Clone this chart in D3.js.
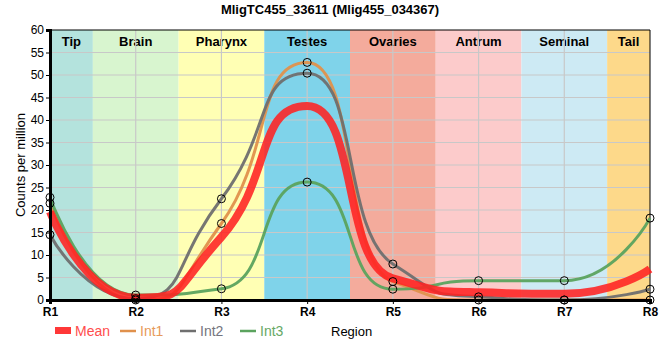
<!DOCTYPE html>
<html><head><meta charset="utf-8">
<script src="https://cdn.jsdelivr.net/npm/d3@7"></script>
<style>body{margin:0;background:#fff;font-family:"Liberation Sans",Arial,sans-serif;}</style>
</head><body><svg id="c" width="660" height="360"></svg>
<script>
const regions = ["R1","R2","R3","R4","R5","R6","R7","R8"];
const bandNames = ["Tip","Brain","Pharynx","Testes","Ovaries","Antrum","Seminal","Tail"];
const bandStart = [0,0.5,1.5,2.5,3.5,4.5,5.5,6.5];
const bandEnd   = [0.5,1.5,2.5,3.5,4.5,5.5,6.5,7];
const bandColors = ["#b4e3dd","#d8f5cf","#ffffb4","#7fd3ea","#f4ab9c","#fccbcb","#cdeaf4","#fdd98a"];
const int1 = [21.5, 0, 17, 52.8, 4.1, 0, 0, 0];
const int2 = [14.5, 0.3, 22.5, 50.4, 8.0, 0.7, 0, 2.4];
const int3 = [22.8, 1.1, 2.5, 26.2, 2.4, 4.3, 4.3, 18.2];
const mean = [19.6, 0.5, 14.0, 43.1, 4.8, 1.7, 1.4, 6.9];
const yTicks = [0,5,10,15,20,25,30,35,40,45,50,55,60];
const seriesNames = ["Mean","Int1","Int2","Int3"];
const seriesColors = ["#ff2222","#e0914c","#6f6f6f","#5ba35e"];
const legendText = ["#ff4d4d","#e79a5a","#74747e","#66a866"];

const svg = d3.select("#c");
const L=50,R=650,T=30,B=300;
const x = d3.scaleLinear().domain([0,7]).range([L,R]);
const y = d3.scaleLinear().domain([0,60]).range([B,T]);

// spline path (control points clamped to avoid false extremes)
function splinePath(vals){
  const pts = vals.map((v,i)=>[x(i), y(v)]);
  const s = 2/3, den = s+1;
  const lc = [], rc = [];
  for(let i=0;i<pts.length;i++){
    const [px,py] = pts[i];
    if(i===0 || i===pts.length-1){ lc[i]=[px,py]; rc[i]=[px,py]; continue; }
    const [lx,ly] = pts[i-1], [nx,ny] = pts[i+1];
    let lcx=(s*px+lx)/den, lcy=(s*py+ly)/den, rcx=(s*px+nx)/den, rcy=(s*py+ny)/den;
    let corr=0;
    if(rcx!==lcx) corr=((rcy-lcy)*(rcx-px))/(rcx-lcx)+py-rcy;
    lcy+=corr; rcy+=corr;
    if(lcy>ly && lcy>py){ lcy=Math.max(ly,py); rcy=2*py-lcy; }
    else if(lcy<ly && lcy<py){ lcy=Math.min(ly,py); rcy=2*py-lcy; }
    if(rcy>ny && rcy>py){ rcy=Math.max(ny,py); lcy=2*py-rcy; }
    else if(rcy<ny && rcy<py){ rcy=Math.min(ny,py); lcy=2*py-rcy; }
    lc[i]=[lcx,lcy]; rc[i]=[rcx,rcy];
  }
  const p = d3.path();
  p.moveTo(pts[0][0],pts[0][1]);
  for(let i=1;i<pts.length;i++){
    p.bezierCurveTo(rc[i-1][0],rc[i-1][1],lc[i][0],lc[i][1],pts[i][0],pts[i][1]);
  }
  return p.toString();
}

svg.append("text").attr("x",330).attr("y",14).attr("text-anchor","middle")
  .attr("font-size",13).attr("font-weight","bold").text("MligTC455_33611 (Mlig455_034367)");

// bands
bandNames.forEach((n,i)=>{
  svg.append("rect").attr("x",x(bandStart[i])).attr("y",T).attr("width",x(bandEnd[i])-x(bandStart[i])).attr("height",B-T).attr("fill",bandColors[i]);
  svg.append("text").attr("x",(x(bandStart[i])+x(bandEnd[i]))/2).attr("y",T+16).attr("text-anchor","middle")
    .attr("font-size",13).attr("font-weight","bold").text(n);
});
// grid
svg.append("g").selectAll("line").data(yTicks.slice(1,-1)).join("line")
  .attr("x1",L).attr("x2",R).attr("y1",d=>y(d)).attr("y2",d=>y(d)).attr("stroke","#c8c8c8").attr("stroke-width",1.2);
svg.append("g").selectAll("line").data(d3.range(1,7)).join("line")
  .attr("y1",T).attr("y2",B).attr("x1",d=>x(d)).attr("x2",d=>x(d)).attr("stroke","#c8c8c8").attr("stroke-width",1.2);
// frame
svg.append("line").attr("x1",L).attr("x2",R).attr("y1",T).attr("y2",T).attr("stroke","#000");
svg.append("line").attr("x1",R).attr("x2",R).attr("y1",T).attr("y2",B).attr("stroke","#000");

const data = [mean,int1,int2,int3];
[1,2,3].forEach(k=>{
  svg.append("path").attr("d",splinePath(data[k])).attr("fill","none").attr("stroke",seriesColors[k]).attr("stroke-width",3).attr("stroke-opacity",0.95);
});
svg.append("path").attr("d",splinePath(mean)).attr("fill","none").attr("stroke",seriesColors[0]).attr("stroke-width",8).attr("stroke-opacity",0.88);
// points
[1,2,3].forEach(k=>{
  svg.append("g").selectAll("circle").data(data[k]).join("circle")
    .attr("cx",(d,i)=>x(i)).attr("cy",d=>y(d)).attr("r",4).attr("fill","none").attr("stroke","#000").attr("stroke-width",1);
});

// axes
const yAxis = svg.append("g").attr("transform",`translate(${L},0)`)
  .call(d3.axisLeft(y).tickValues(yTicks).tickSize(4).tickPadding(2));
yAxis.select(".domain").attr("stroke-width",3);
yAxis.selectAll("text").attr("font-size",12).attr("font-family","Liberation Sans, Arial").attr("fill","#000");
const xAxis = svg.append("g").attr("transform",`translate(0,${B})`)
  .call(d3.axisBottom(x).tickValues(d3.range(8)).tickFormat(i=>regions[i]).tickSize(4).tickPadding(3));
xAxis.select(".domain").attr("stroke-width",3);
xAxis.selectAll("text").attr("font-size",12).attr("font-weight","bold").attr("font-family","Liberation Sans, Arial").attr("fill","#000");

svg.append("text").attr("transform","translate(25,165) rotate(-90)").attr("text-anchor","middle")
  .attr("font-size",13).text("Counts per million");
svg.append("text").attr("x",331).attr("y",336).attr("font-size",13).text("Region");

// legend
const lx=[55,120,180,240];
seriesNames.forEach((n,i)=>{
  if(i===0) svg.append("rect").attr("x",lx[i]).attr("y",327).attr("width",16).attr("height",7).attr("fill",seriesColors[0]).attr("opacity",0.9);
  else svg.append("line").attr("x1",lx[i]).attr("x2",lx[i]+16).attr("y1",331).attr("y2",331).attr("stroke",seriesColors[i]).attr("stroke-width",2.5);
  svg.append("text").attr("x",lx[i]+20).attr("y",336).attr("font-size",14).attr("fill",legendText[i]).text(n);
});
</script></body></html>
